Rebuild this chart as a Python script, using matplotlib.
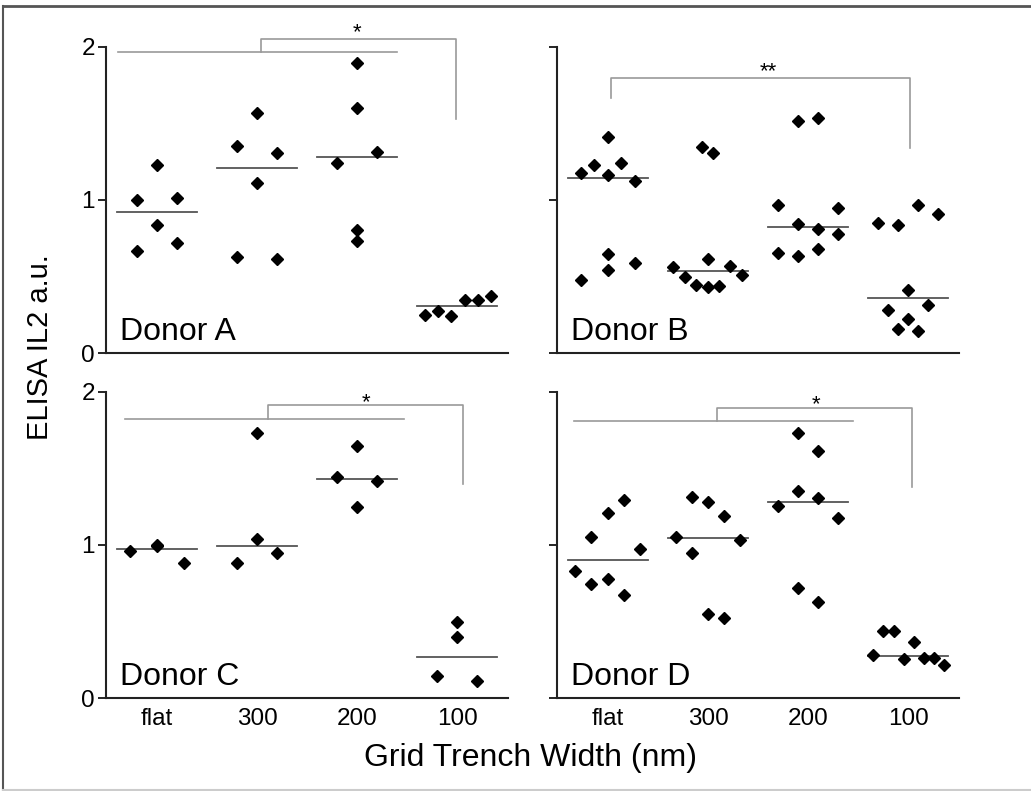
import numpy as np
import matplotlib
matplotlib.use("Agg")
import matplotlib.pyplot as plt
from matplotlib.lines import Line2D

plt.rcParams["font.family"] = ["Liberation Sans", "DejaVu Sans"]

categories = ["flat", "300", "200", "100"]
donors = ["Donor A", "Donor B", "Donor C", "Donor D"]

# values per category (flat, 300, 200, 100) and horizontal jitter of each point
a_vals = [[1.000, 1.227, 1.013, 0.839, 0.667, 0.721],
          [1.351, 1.569, 1.307, 1.111, 0.627, 0.612],
          [1.891, 1.597, 1.312, 1.242, 0.806, 0.732],
          [0.248, 0.275, 0.244, 0.344, 0.344, 0.370]]
a_dx = [[-0.2, 0, 0.2, 0, -0.2, 0.2],
        [-0.2, 0, 0.2, 0, -0.2, 0.2],
        [0, 0, 0.2, -0.2, 0, 0],
        [-0.32, -0.19, -0.06, 0.08, 0.21, 0.34]]

b_vals = [[1.412, 1.176, 1.231, 1.242, 1.161, 1.122, 0.649, 0.590, 0.545, 0.475],
          [1.344, 1.307, 0.562, 0.497, 0.442, 0.431, 0.438, 0.612, 0.566, 0.512],
          [1.514, 1.538, 0.969, 0.946, 0.841, 0.808, 0.780, 0.656, 0.634, 0.682],
          [0.850, 0.837, 0.969, 0.908, 0.410, 0.283, 0.314, 0.222, 0.159, 0.148]]
b_dx = [[0, -0.27, -0.14, 0.13, 0, 0.27, 0, 0.27, 0, -0.27],
        [-0.06, 0.05, -0.35, -0.23, -0.12, 0, 0.11, 0, 0.22, 0.34],
        [-0.1, 0.1, -0.3, 0.3, -0.1, 0.1, 0.3, -0.3, -0.1, 0.1],
        [-0.3, -0.1, 0.1, 0.3, 0, -0.2, 0.2, 0, -0.1, 0.1]]

c_vals = [[0.963, 1.000, 0.990, 0.885],
          [1.728, 1.037, 0.885, 0.946],
          [1.646, 1.446, 1.417, 1.250],
          [0.500, 0.398, 0.146, 0.109]]
c_dx = [[-0.27, 0, 0, 0.27],
        [0, 0, -0.2, 0.2],
        [0, -0.2, 0.2, 0],
        [0, 0, -0.2, 0.2]]

d_vals = [[0.833, 0.746, 0.778, 0.674, 1.054, 1.211, 1.293, 0.976],
          [1.315, 1.280, 1.191, 1.054, 1.033, 0.946, 0.548, 0.522],
          [1.728, 1.611, 1.354, 1.304, 1.257, 1.178, 0.722, 0.628],
          [0.441, 0.441, 0.365, 0.283, 0.254, 0.263, 0.263, 0.217]]
d_dx = [[-0.33, -0.17, 0, 0.16, -0.17, 0, 0.16, 0.32],
        [-0.16, 0, 0.16, -0.32, 0.32, -0.16, 0, 0.16],
        [-0.1, 0.1, -0.1, 0.1, -0.3, 0.3, -0.1, 0.1],
        [-0.25, -0.14, 0.06, -0.35, -0.04, 0.16, 0.26, 0.36]]

stars = ["*", "**", "*", "*"]

BR = "#9a9a9a"


def bracket_group(ax, low_y, low_x0, low_x1, stem_x, top_y, right_x, right_y, star_x, star_y, star):
    kw = dict(color=BR, lw=1.2, clip_on=False)
    ax.plot([low_x0, low_x1], [low_y, low_y], **kw)
    ax.plot([stem_x, stem_x, right_x, right_x], [low_y, top_y, top_y, right_y], **kw)
    ax.text(star_x, star_y, star, ha="center", va="center", fontsize=16)


def bracket_simple(ax, x0, y0, top_y, x1, y1, star_x, star_y, star):
    ax.plot([x0, x0, x1, x1], [y0, top_y, top_y, y1], color=BR, lw=1.2, clip_on=False)
    ax.text(star_x, star_y, star, ha="center", va="center", fontsize=16)


fig = plt.figure(figsize=(10.31, 7.91), dpi=100)
W, H = 1031, 791
boxes = [(106, 46.7), (557, 46.7), (106, 391.7), (557, 391.7)]
panel_w, panel_h = 402, 306.5

data = [(a_vals, a_dx), (b_vals, b_dx), (c_vals, c_dx), (d_vals, d_dx)]
axes = []
for i, ((vals, dx), (px, py)) in enumerate(zip(data, boxes)):
    ax = fig.add_axes([px / W, 1 - (py + panel_h) / H, panel_w / W, panel_h / H])
    axes.append(ax)
    for k, (v, o) in enumerate(zip(vals, dx)):
        ax.plot(k + np.array(o), v, "D", color="black", ms=6.2, ls="none", zorder=3)
        med = np.median(v)
        ax.plot([k - 0.4, k + 0.4], [med, med], color="#555555", lw=1.3, zorder=2)

    ax.set_xlim(-0.51, 3.51)
    ax.set_ylim(0, 2)
    ax.set_yticks([0, 1, 2])
    ax.set_xticks(range(len(categories)))
    for s in ("top", "right"):
        ax.spines[s].set_visible(False)
    for s in ("left", "bottom"):
        ax.spines[s].set_linewidth(1.5)
        ax.spines[s].set_color("#222222")
    ax.tick_params(axis="y", direction="out", length=6, width=1.2, labelsize=17.5, pad=2)
    ax.tick_params(axis="x", length=0, labelsize=17.5, pad=7)
    if i in (0, 2):
        ax.set_yticklabels(["0", "1", "2"])
    else:
        ax.set_yticklabels([])
    if i in (2, 3):
        ax.set_xticklabels(categories)
    else:
        ax.set_xticklabels([])
    ax.text(-0.37, 0.087, donors[i], fontsize=23, ha="left", va="baseline")

bracket_group(axes[0], 1.963, -0.39, 2.40, 1.04, 2.05, 2.99, 1.53, 2.00, 2.09, stars[0])
bracket_simple(axes[1], 0.03, 1.662, 1.793, 3.02, 1.34, 1.60, 1.84, stars[1])
bracket_group(axes[2], 1.824, -0.32, 2.47, 1.107, 1.913, 3.06, 1.396, 2.09, 1.93, stars[2])
bracket_group(axes[3], 1.809, -0.34, 2.45, 1.087, 1.896, 3.04, 1.38, 2.08, 1.915, stars[3])

fig.text(40 / W, 1 - 347 / H, "ELISA IL2 a.u.", rotation=90, ha="center", va="center", fontsize=21)
fig.text(530 / W, 1 - 758 / H, "Grid Trench Width (nm)", ha="center", va="center", fontsize=23)

# outer frame
fig.add_artist(Line2D([3 / W, 1.0], [1 - 5.5 / H, 1 - 5.5 / H], color="#555555", lw=2))
fig.add_artist(Line2D([3 / W, 3 / W], [1 - 5.5 / H, 1.5 / H], color="#555555", lw=1.5))
fig.add_artist(Line2D([3 / W, 1.0], [1.5 / H, 1.5 / H], color="#cccccc", lw=1.5))

fig.savefig("out.png", dpi=100)
